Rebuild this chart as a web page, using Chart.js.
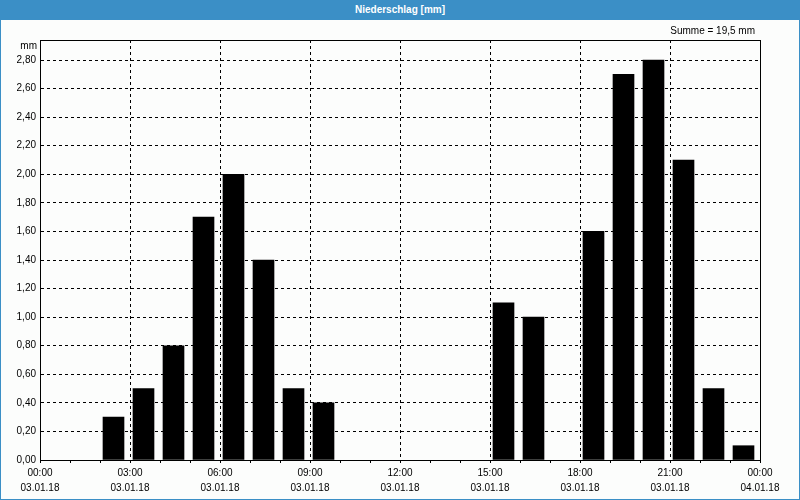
<!DOCTYPE html>
<html>
<head>
<meta charset="utf-8">
<script src="https://cdn.jsdelivr.net/npm/chart.js@4/dist/chart.umd.min.js"></script>
<style>
  html, body { margin: 0; padding: 0; background: #fcfdfc; }
  #wrap { position: relative; width: 800px; height: 500px; overflow: hidden; }
  #chart { position: absolute; left: 0; top: 0; }
  #frame { position: absolute; left: 0; top: 0; width: 800px; height: 500px; box-sizing: border-box; border: 1px solid #3b8fc6; pointer-events: none; }
  #head { position: absolute; left: 0; top: 0; width: 800px; height: 20px; background: #3b8fc6; color: #fff;
          font: bold 10px "Liberation Sans", Arial, sans-serif; text-align: center; line-height: 20px; }
</style>
</head>
<body>
<div id="wrap">
  <canvas id="chart" width="800" height="500"></canvas>
  <div id="frame"></div>
  <div id="head">Niederschlag [mm]</div>
</div>
<script>
const hours  = [2, 3, 4, 5, 6, 7, 8, 9, 15, 16, 18, 19, 20, 21, 22, 23];
const values = [0.3, 0.5, 0.8, 1.7, 2.0, 1.4, 0.5, 0.4, 1.1, 1.0, 1.6, 2.7, 2.8, 2.1, 0.5, 0.1];
const xTickHours  = [0, 3, 6, 9, 12, 15, 18, 21, 24];
const xTimeLabels = ['00:00', '03:00', '06:00', '09:00', '12:00', '15:00', '18:00', '21:00', '00:00'];
const xDateLabels = ['03.01.18', '03.01.18', '03.01.18', '03.01.18', '03.01.18', '03.01.18', '03.01.18', '03.01.18', '04.01.18'];
const yTicks = [0, 0.2, 0.4, 0.6, 0.8, 1.0, 1.2, 1.4, 1.6, 1.8, 2.0, 2.2, 2.4, 2.6, 2.8];
const yUnit = 'mm';

const FONT = '"Liberation Sans", Arial, sans-serif';
const total = values.reduce((a, b) => a + b, 0);
const sumText = 'Summe = ' + total.toFixed(1).replace('.', ',') + ' mm';

const extras = {
  id: 'extras',
  afterDraw(chart) {
    const { ctx, chartArea: a } = chart;
    ctx.save();
    ctx.strokeStyle = '#000';
    ctx.lineWidth = 1;
    ctx.setLineDash([]);
    const l = Math.round(a.left) + 0.5, r = Math.round(a.right) + 0.5;
    const t = Math.round(a.top) + 0.5, b = Math.round(a.bottom) + 0.5;
    ctx.strokeRect(l, t, r - l, b - t);
    ctx.fillStyle = '#000';
    ctx.font = '10px ' + FONT;
    ctx.textAlign = 'right';
    ctx.textBaseline = 'middle';
    ctx.fillText(yUnit, a.left - 3, a.top + 6);
    ctx.fillText(sumText, a.right - 5, a.top - 9);
    ctx.restore();
  }
};

new Chart(document.getElementById('chart'), {
  type: 'bar',
  data: {
    datasets: [{
      data: hours.map((h, i) => ({ x: h + 0.45, y: values[i] })),
      backgroundColor: '#000',
      borderWidth: 0,
      barThickness: 21
    }]
  },
  options: {
    responsive: false,
    animation: false,
    devicePixelRatio: 1,
    layout: { padding: { top: 40, right: 40, left: 0, bottom: 0 } },
    plugins: { legend: { display: false }, tooltip: { enabled: false }, title: { display: false } },
    scales: {
      x: {
        type: 'linear',
        min: 0, max: 24,
        offset: false,
        afterBuildTicks(scale) {
          const t = [];
          for (let h = 0; h <= 24; h++) t.push({ value: h });
          scale.ticks = t;
        },
        afterFit(scale) { scale.height = 40; },
        grid: {
          offset: false,
          color: c => (c.tick && c.tick.value % 3 === 0) ? '#000' : 'rgba(0,0,0,0)',
          lineWidth: 1,
          drawTicks: true,
          tickLength: 3,
          tickColor: '#000'
        },
        border: { display: true, color: '#000', width: 1, dash: [3, 3] },
        ticks: {
          autoSkip: false,
          maxRotation: 0,
          padding: 3,
          color: '#000',
          font: { family: FONT, size: 10, lineHeight: 1.5 },
          callback(v) {
            const i = xTickHours.indexOf(v);
            return i >= 0 ? [xTimeLabels[i], xDateLabels[i]] : '';
          }
        }
      },
      y: {
        type: 'linear',
        min: 0, max: 2.94,
        afterBuildTicks(scale) { scale.ticks = yTicks.map(v => ({ value: v })); },
        afterFit(scale) { scale.width = 40; },
        grid: { color: '#000', lineWidth: 1, drawTicks: false },
        border: { display: true, color: '#000', width: 1, dash: [3, 3] },
        ticks: {
          padding: 4,
          color: '#000',
          font: { family: FONT, size: 10 },
          callback: v => Number(v).toFixed(2).replace('.', ',')
        }
      }
    }
  },
  plugins: [extras]
});
</script>
</body>
</html>
